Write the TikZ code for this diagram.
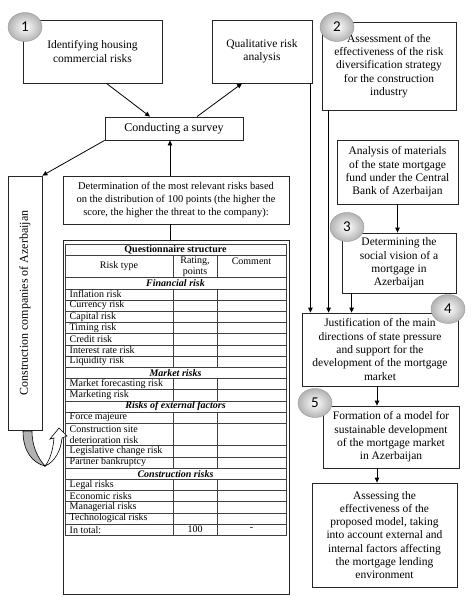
\documentclass[tikz,border=0pt]{standalone}
\usepackage{fontspec}
\setmainfont{Liberation Serif}
\newfontfamily\badgefont{Carlito}
\usetikzlibrary{calc,shapes.geometric,arrows.meta}
\def\ry#1{244+11.2*(#1)}
\tikzset{
	box/.style={draw=black!85, line width=0.8pt, align=center, inner sep=1pt, font=\fontsize{11.5}{13.3}\selectfont},
	arr/.style={-{Triangle[length=5pt,width=4.5pt]}, line width=0.8pt},
	badge/.style={ellipse, draw=black!40, inner color=white, outer color=black!30, minimum width=34pt, minimum height=29pt, inner sep=0pt, font=\badgefont\fontsize{15}{15}\selectfont},
	grid/.style={draw=black!75, line width=0.5pt},
	cell/.style={anchor=west, inner sep=0pt, font=\fontsize{10}{11}\selectfont},
	title/.style={inner sep=0pt, font=\fontsize{10}{11}\selectfont\bfseries},
	head/.style={inner sep=0pt, font=\fontsize{10}{11}\selectfont\bfseries\itshape},
}

\begin{document}
\begin{tikzpicture}[x=1pt,y=-1pt]
			\useasboundingbox (0,0) rectangle (474,605);
			%%%%% LEFT COLUMN %%%%%
			
			\node[box, minimum width=139pt, minimum height=63pt] (ident) at (92.5,51.5) {Identifying housing\\commercial risks};
			\node[box, minimum width=100pt, minimum height=63pt] (qual) at (262,51.5) {Qualitative risk\\analysis};
			\node[box, minimum width=138pt, minimum height=23pt, font=\fontsize{12}{14}\selectfont] (survey) at (174,128.5) {Conducting a survey};
			\node[box, minimum width=226pt, minimum height=48pt, font=\fontsize{10.5}{13}\selectfont] (determ) at (176,200) {Determination of the most relevant risks based\\on the distribution of 100 points (the higher the\\score, the higher the threat to the company):};
			\node[box, rotate=90, minimum width=254pt, minimum height=34pt, font=\fontsize{12}{14}\selectfont] (constr) at (25,303) {Construction companies of Azerbaijan};
			\node[box, minimum width=226pt, minimum height=354pt] (tab) at (176,417) {};
			
			\draw[arr] ($(ident.south)+(14,0)$) -- ($(survey.north)+(-24,0)$);
			\draw[arr] ($(survey.north)+(23,0)$) -- ($(qual.south)+(-20,0)$);
			\draw[arr] (survey.south west) -- (constr.south east);
			\draw[arr] ($(determ.north)+(-6,0)$) -- ($(survey.south)+(-4,0)$);
			\draw[line width=0.8pt] ($(determ.south)+(-6,0)$) -- ($(tab.north)+(-6,0)$);
			
			% turn arrow under the companies box
			\draw[fill=black!30, line width=0.6pt] (23,431) .. controls (23,452) and (33,463) .. (45,466) .. controls (38,458) and (32,447) .. (32,431) -- cycle;
			\draw[fill=white, line width=0.6pt] (45,466) .. controls (55,462) and (61,450) .. (62,438) -- (67,436) -- (59,428) -- (50,439) -- (54,438) .. controls (53,450) and (50,460) .. (45,466) -- cycle;
			
			%%%%% QUESTIONNAIRE %%%%%
			
			\draw[grid] (65,{\ry{0}}) rectangle (286,{\ry{26}});
			\foreach \k in {1,3,4,5,6,7,8,9,10,11,12,13,14,15,16,18,19,20,21,22,23,24,25}
				\draw[grid] (65,{\ry{\k}}) -- (286,{\ry{\k}});
			\foreach \a/\b in {1/3,4/11,12/14,15/20,21/26} {
				\draw[grid] (173,{\ry{\a}}) -- (173,{\ry{\b}});
				\draw[grid] (217,{\ry{\a}}) -- (217,{\ry{\b}});
			}
			
			\node[title] at (175.5,{\ry{0.5}}) {Questionnaire structure};
			\node[cell, anchor=center] at (119,{\ry{2}}) {Risk type};
			\node[cell, anchor=center, align=center] at (195,{\ry{2}}) {Rating,\\points};
			\node[cell, anchor=center] at (251.5,{\ry{1.5}}) {Comment};
			
			\foreach \k/\txt in {3/Financial risk,11/Market risks,14/Risks of external factors,20/Construction risks}
				\node[head] at (175.5,{\ry{\k+0.5}}) {\txt};
			\foreach \k/\txt in {4/Inflation risk,5/Currency risk,6/Capital risk,7/Timing risk,8/Credit risk,9/Interest rate risk,10/Liquidity risk,12/Market forecasting risk,13/Marketing risk,15/Force majeure,18/Legislative change risk,19/Partner bankruptcy,21/Legal risks,22/Economic risks,23/Managerial risks,24/Technological risks,25/In total:}
				\node[cell] at (69.5,{\ry{\k+0.5}}) {\txt};
			\node[cell, align=left] at (69.5,{\ry{17}}) {Construction site\\deterioration risk};
			\node[cell, anchor=center] at (195,{\ry{25.5}}) {100};
			\node[cell, anchor=center] at (251.5,{\ry{25.5}}) {-};
			
			%%%%% RIGHT COLUMN %%%%%
			
			\node[box, minimum width=134pt, minimum height=88pt] (assess) at (389,66) {Assessment of the\\effectiveness of the risk\\diversification strategy\\for the construction\\industry};
			\node[box, minimum width=121pt, minimum height=64pt] (analysis) at (397.5,172) {Analysis of materials\\of the state mortgage\\fund under the Central\\Bank of Azerbaijan};
			\node[box, minimum width=114pt, minimum height=60pt] (social) at (399,263) {Determining the\\social vision of a\\mortgage in\\Azerbaijan};
			\node[box, minimum width=156pt, minimum height=73pt] (justif) at (380,349.5) {Justification of the main\\directions of state pressure\\and support for the\\development of the mortgage\\market};
			\node[box, minimum width=136pt, minimum height=62pt] (model) at (391,437) {Formation of a model for\\sustainable development\\of the mortgage market\\in Azerbaijan};
			\node[box, minimum width=145pt, minimum height=104pt] (evaluate) at (384.5,535) {Assessing the\\effectiveness of the\\proposed model, taking\\into account external and\\internal factors affecting\\the mortgage lending\\environment};
			
			\draw[arr] ($(qual.south east)+(-2,0)$) coordinate (q1) -- (q1 |- justif.north);
			\draw[arr] ($(assess.south west)+(7,0)$) coordinate (q2) -- (q2 |- justif.north);
			\draw[arr] (analysis.south) -- (analysis.south |- social.north);
			\draw[arr] ($(social.south west)+(10,0)$) coordinate (q3) -- (q3 |- justif.north);
			\draw[arr] ($(justif.south)+(-3,0)$) coordinate (q4) -- (q4 |- model.north);
			\draw[arr] (q4 |- model.south) -- (q4 |- evaluate.north);
			
			%%%%% NUMBERS %%%%%
			
			\node[badge] (badge1) at (25,27) {1};
			\node[badge] (badge2) at (337,27) {2};
			\node[badge] (badge3) at (347,227) {3};
			\node[badge] (badge4) at (448,309) {4};
			\node[badge] (badge5) at (315,403) {5};
			
\end{tikzpicture}
\end{document}
